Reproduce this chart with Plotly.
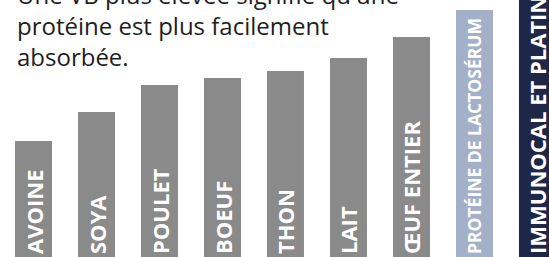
import plotly.graph_objects as go

# Data (bar heights, chart units)
categories = ["AVOINE", "SOYA", "POULET", "BOEUF", "THON", "LAIT",
              "ŒUF ENTIER", "PROTÉINE DE LACTOSÉRUM", "IMMUNOCAL ET PLATINUM"]
values = [116, 145, 172, 179, 186, 199, 220, 247, 420]
colors = ["#8a8a8a"] * 7 + ["#a3b0c8", "#1f2747"]
label_sizes = [22] * 7 + [17.5, 22]
caption = "Une VB plus élevée signifie qu'une<br>protéine est plus facilement<br>absorbée."

fig = go.Figure(go.Bar(
    x=categories,
    y=values,
    marker=dict(color=colors, line=dict(width=0)),
    text=categories,
    textposition="inside",
    insidetextanchor="start",
    textangle=-90,
    constraintext="none",
    insidetextfont=dict(family="Open Sans", color="white", size=label_sizes, weight="bold"),
    cliponaxis=True,
    hoverinfo="skip",
))

fig.update_layout(
    width=549, height=257,
    margin=dict(l=0, r=0, t=0, b=0),
    paper_bgcolor="white", plot_bgcolor="white",
    bargap=0.413,
    showlegend=False,
    xaxis=dict(range=[-0.532, 8.183], visible=False, fixedrange=True),
    yaxis=dict(range=[0, 257], visible=False, fixedrange=True),
    uniformtext=dict(mode=False),
)

fig.add_annotation(
    text=caption, xref="paper", yref="paper", x=15 / 549, y=1.095,
    xanchor="left", yanchor="top", align="left", showarrow=False,
    font=dict(family="Open Sans", size=24, color="#1e1e1e"),
)

fig.write_html("out.html", config={"staticPlot": True},
               post_script="document.body.style.margin='0';document.body.style.overflow='hidden';")
